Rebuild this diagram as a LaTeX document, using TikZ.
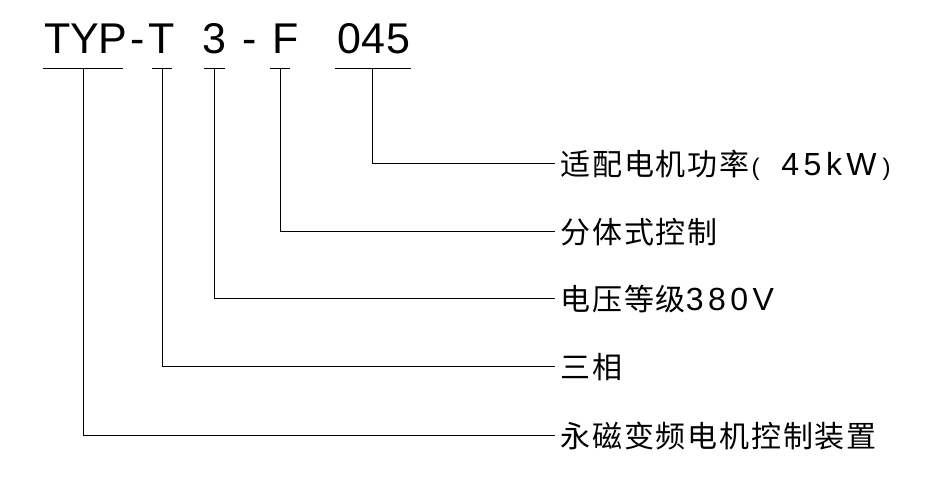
\documentclass[tikz,border=0pt]{standalone}
\usepackage{fontspec}
\setmainfont{Liberation Sans}
\newfontfamily\zhfont[LetterSpace=6]{Noto Sans CJK SC}
\newfontfamily\latfont[LetterSpace=14]{Liberation Sans}
\newfontfamily\codefont{Liberation Sans}
\newcommand\parenfont{\latfont\fontsize{24}{24}\selectfont}
\begin{document}
\begin{tikzpicture}[x=1pt,y=-1pt,
  line width=1pt,
  code/.style={inner sep=0pt,anchor=base,font=\codefont\fontsize{43}{43}\selectfont},
  lbl/.style={inner sep=0pt,anchor=base west,font=\fontsize{30}{30}\selectfont},
  wire/.style={draw=black,line width=1pt}]
\useasboundingbox (0,0) rectangle (951,487);
% code characters
\foreach \ch/\x [count=\i] in {T/58,Y/85,P/113,-/138,T/162,3/214,-/250,F/286,0/349,4/373,5/398}
  \node[code] (ch\i) at (\x,54) {\ch};
% underlines
\coordinate (a1) at (43,69);  \coordinate (b1) at (123,69);
\coordinate (a2) at (152,69); \coordinate (b2) at (172,69);
\coordinate (a3) at (204,69); \coordinate (b3) at (225,69);
\coordinate (a4) at (270,69); \coordinate (b4) at (290,69);
\coordinate (a5) at (335,69); \coordinate (b5) at (411,69);
\foreach \i in {1,...,5} \draw[wire] (a\i) -- (b\i);
% stems
\coordinate (u1) at (83,69);
\coordinate (u2) at (162,69);
\coordinate (u3) at (214,69);
\coordinate (u4) at (280,69);
\coordinate (u5) at (372,69);
% row ends
\coordinate (r5) at (555,163);
\coordinate (r4) at (555,231);
\coordinate (r3) at (555,298);
\coordinate (r2) at (555,366);
\coordinate (r1) at (555,435);
% labels
\node[lbl] (l5) at (560,175) {{\zhfont 适配电机功率}\hspace{2pt}{\parenfont(}\hspace{22pt}{\latfont\fontsize{32}{32}\selectfont 45kW}\hspace{6pt}{\parenfont)}};
\node[lbl] (l4) at (560,243) {\zhfont 分体式控制};
\node[lbl] (l3) at (560,310) {{\zhfont 电压等级}{\latfont\fontsize{32}{32}\selectfont 380V}};
\node[lbl] (l2) at (560,378) {\zhfont 三相};
\node[lbl] (l1) at (560,447) {\zhfont 永磁变频电机控制装置};
\foreach \i in {1,...,5} \draw[wire] (u\i) |- (r\i);
\end{tikzpicture}
\end{document}
